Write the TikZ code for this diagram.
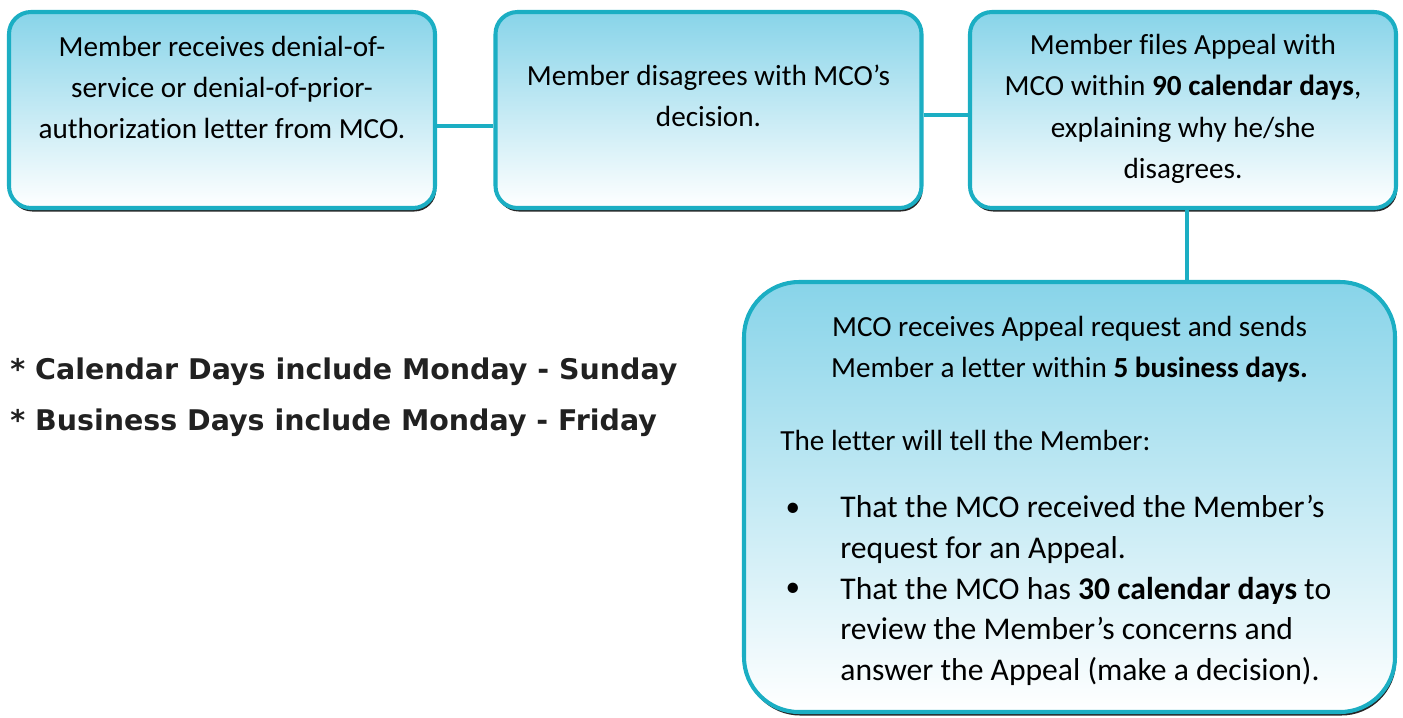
\documentclass[tikz,border=0pt]{standalone}
\usepackage{fontspec}
\setmainfont{Carlito}[Ligatures={NoCommon}]
\newfontfamily\notefont{DejaVu Sans}
\usetikzlibrary{calc, shadows}
\definecolor{boxline}{RGB}{27,174,195}
\definecolor{boxtop}{RGB}{136,212,233}
\tikzstyle{every node}=[font=\fontsize{16.6}{23.5}\selectfont]
\tikzset{etape/.style={draw=boxline, line width=2.3pt, rounded corners=0.44cm,
	top color=boxtop, bottom color=white, inner sep=0pt,
	general shadow={fill=black!85, shadow xshift=0.7pt, shadow yshift=-2pt}},
	lien/.style={draw=boxline, line width=2.3pt},
	texte/.style={align=center, inner sep=0pt}}

\begin{document}
\begin{tikzpicture}
	\useasboundingbox (0,0) rectangle (28.06,-14.34);

% BOITES

	% haut
	\node[etape, minimum width=8.52cm, minimum height=3.92cm] (recoit) at (4.44,-2.20) {};
	\node[etape, minimum width=8.52cm, minimum height=3.92cm] (desaccord) at (14.17,-2.20) {};
	\node[etape, minimum width=8.52cm, minimum height=3.92cm] (appel) at (23.66,-2.20) {};
	
	% bas
	\node[etape, rounded corners=1.1cm, minimum width=13.02cm, minimum height=8.6cm] (reponse) at (21.39,-9.94) {};

% LIENS
	\draw[lien] ($(recoit.east)+(0,-0.32)$) -- ($(desaccord.west)+(0,-0.32)$);
	\draw[lien] ($(desaccord.east)+(0,-0.10)$) -- ($(appel.west)+(0,-0.10)$);
	\coordinate (pied) at ($(appel.south)+(0.08,0)$);
	\draw[lien] (pied) -- (pied |- reponse.north);

% TEXTES
	\node[texte] (t1) at (4.44,-1.75) {Member receives denial-of-\\service or denial-of-prior-\\authorization letter from MCO.};
	\node[texte] (t2) at (14.17,-1.92) {Member disagrees with MCO’s\\decision.};
	\node[texte] (t3) at (23.66,-2.18) {Member files Appeal with\\MCO within \textbf{90 calendar days},\\explaining why he/she\\disagrees.};
	
	\node[texte] (t4) at (21.39,-6.98) {MCO receives Appeal request and sends\\Member a letter within \textbf{5 business days.}};
	\node[texte, anchor=west] (t5) at (15.6,-8.80) {The letter will tell the Member:};
	
	% puces
	\node[texte] (p1) at (15.86,-10.20) {\textbullet};
	\node[texte] (p2) at (15.86,-11.80) {\textbullet};
	\node[texte, align=left, anchor=west, font=\fontsize{18}{23.2}\selectfont] (t6) at (16.8,-11.81)
		{That the MCO received the Member’s\\request for an Appeal.\\That the MCO has \textbf{30 calendar days} to\\review the Member’s concerns and\\answer the Appeal (make a decision).};

% NOTE
	\node[anchor=west, inner sep=0pt, align=left, text=black!87,
		font=\notefont\bfseries\fontsize{16.2}{29}\selectfont] (note) at (0.2,-7.95)
		{* Calendar Days include Monday - Sunday\\* Business Days include Monday - Friday};

\end{tikzpicture}
\end{document}
